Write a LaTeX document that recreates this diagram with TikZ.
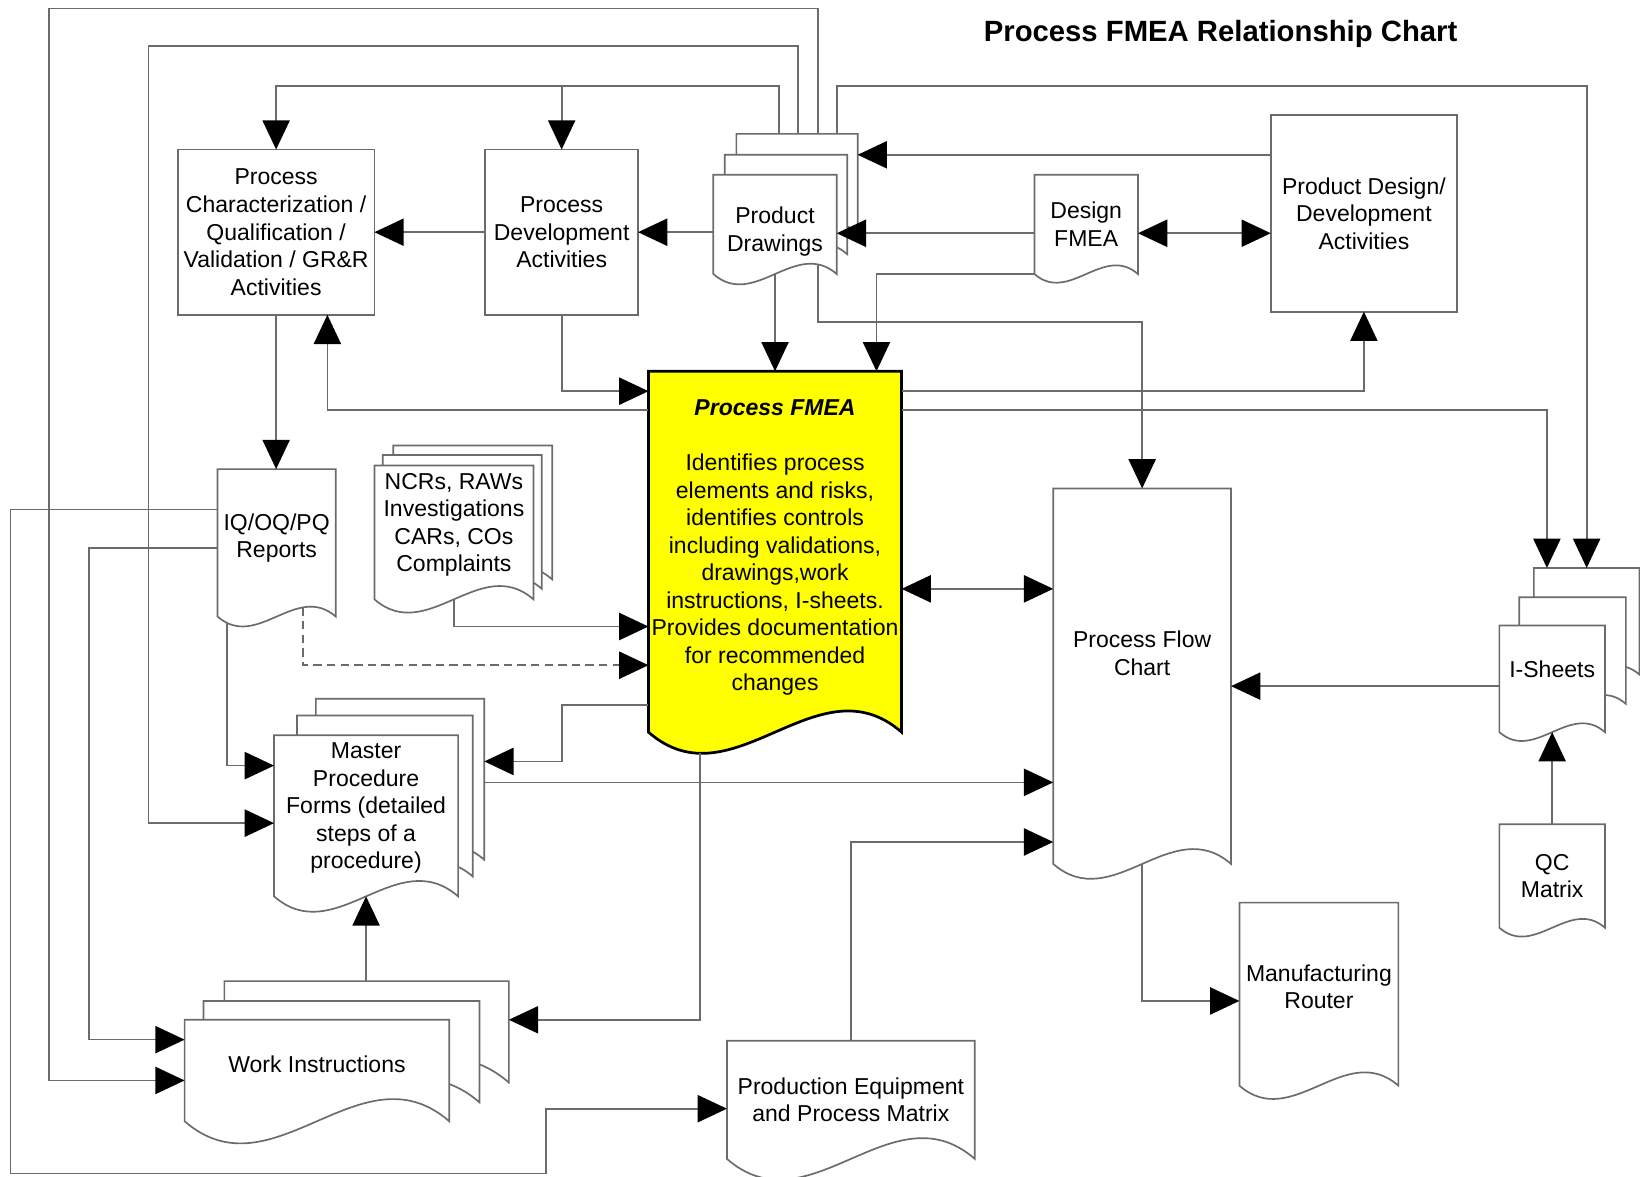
\documentclass[tikz,border=0pt]{standalone}
\usepackage{fontspec}
\setmainfont{Liberation Sans}
\usepackage{tikz}
\usetikzlibrary{arrows.meta,calc}
\pgfdeclarelayer{shapes}
\pgfsetlayers{shapes,main}
\definecolor{linegray}{gray}{0.42}
\definecolor{fmeayellow}{RGB}{255,255,0}
\tikzstyle{box} = [rectangle, draw=linegray, line width=0.8pt, fill=white, text centered, align=center, inner sep=1pt, outer sep=0pt, font=\fontsize{11}{13.15}\selectfont]
\tikzstyle{doc} = [rectangle, text centered, align=center, inner sep=1pt, outer sep=0pt, font=\fontsize{11}{13.15}\selectfont]
\tikzstyle{docsheet} = [fill=white, draw=linegray, line width=0.8pt]
\tikzstyle{fmeasheet} = [fill=fmeayellow, draw=black, line width=1.3pt]
\tikzstyle{arrow} = [draw=linegray, line width=0.8pt, -{Triangle[length=14pt,width=13pt,color=black]}]
\tikzstyle{twoway} = [arrow, {Triangle[length=14pt,width=13pt,color=black]}-{Triangle[length=14pt,width=13pt,color=black]}]
% document outline round a node: #3,#4 shift left/right edge, #5 lifts the sheet
\newcommand{\docshape}[5][docsheet]{%
  \begin{pgfonlayer}{shapes}
  \path[#1] let \p1=(#2.north west), \p2=(#2.south east),
    \n1={\x1+#3}, \n2={\x2+#4}, \n3={\y1+#5}, \n4={\y2+#5}, \n5={\n2-\n1} in
    (\n1,\n3) -- (\n2,\n3) -- (\n2,\n4)
    .. controls ({\n2-\n5/3},{\n4+0.29*\n5}) and ({\n1+\n5/3},{\n4-0.29*\n5}) .. (\n1,\n4) -- cycle;
  \end{pgfonlayer}}

\begin{document}
\begin{tikzpicture}[x=0.5pt, y=-0.5pt]
\useasboundingbox (0,0) rectangle (1568,1125);

\node(title) at (1167,32) [font=\fontsize{14}{17}\selectfont\bfseries] {Process FMEA Relationship Chart};

\node(pc) at (264,222) [box, minimum width=94pt, minimum height=79pt] {Process\\Characterization /\\Qualification /\\Validation / GR\&R\\Activities};
\node(pd) at (537,222) [box, minimum width=73pt, minimum height=79pt] {Process\\Development\\Activities};
\node(pdraw) at (741,214.5) [doc, minimum width=59pt, minimum height=47.5pt, text height=28pt] {Product\\Drawings};
\node(dfmea) at (1038.5,214.5) [doc, minimum width=49.5pt, minimum height=47.5pt] {Design\\FMEA};
\node(pdd) at (1304,204) [box, minimum width=89pt, minimum height=94pt] {Product Design/\\Development\\Activities};
\node(pfmea) at (741,527.5) [doc, minimum width=121pt, minimum height=172.5pt, text depth=6pt] {\textbf{\textit{Process FMEA}}\\[13pt]Identifies process\\elements and risks,\\identifies controls\\including validations,\\drawings,work\\instructions, I-sheets.\\Provides documentation\\for recommended\\changes};
\node(pfc) at (1092,646.5) [doc, minimum width=85pt, minimum height=179.5pt, text depth=22pt] {Process Flow\\Chart};
\node(isheets) at (1484,649) [doc, minimum width=50.5pt, minimum height=51pt, text depth=9pt] {I-Sheets};
\node(qc) at (1484,837.5) [doc, minimum width=50.5pt, minimum height=49.5pt] {QC\\Matrix};
\node(mr) at (1261,950.5) [doc, minimum width=76pt, minimum height=87.5pt, text depth=7pt] {Manufacturing\\Router};
\node(pem) at (813.5,1051.5) [doc, minimum width=118.5pt, minimum height=56.5pt] {Production Equipment\\and Process Matrix};
\node(wi) at (303,1023.5) [doc, minimum width=126.5pt, minimum height=48.5pt, text depth=6pt] {Work Instructions};
\node(mpf) at (350,780) [doc, minimum width=88pt, minimum height=77pt, text depth=9.5pt] {Master\\Procedure\\Forms (detailed\\steps of a\\procedure)};
\node(ncr) at (434,509) [doc, minimum width=76pt, minimum height=64pt, text depth=9.3pt] {NCRs, RAWs\\Investigations\\CARs, COs\\Complaints};
\node(iq) at (264.5,519) [doc, minimum width=56.5pt, minimum height=70.5pt, text depth=6.8pt] {IQ/OQ/PQ\\Reports};

\docshape{pdraw}{11pt}{10pt}{19.5pt}
\docshape{pdraw}{5.5pt}{5pt}{9.5pt}
\docshape{pdraw}{0pt}{0pt}{0pt}
\docshape{dfmea}{0pt}{0pt}{0pt}
\docshape[fmeasheet]{pfmea}{0pt}{0pt}{0pt}
\docshape{pfc}{0pt}{0pt}{0pt}
\docshape{isheets}{16.5pt}{16.5pt}{27.5pt}
\docshape{isheets}{9.5pt}{10pt}{13.5pt}
\docshape{isheets}{0pt}{0pt}{0pt}
\docshape{qc}{0pt}{0pt}{0pt}
\docshape{mr}{0pt}{0pt}{0pt}
\docshape{pem}{0pt}{0pt}{0pt}
\docshape{wi}{19pt}{28.5pt}{18.5pt}
\docshape{wi}{9pt}{14.5pt}{9pt}
\docshape{wi}{0pt}{0pt}{0pt}
\docshape{mpf}{20pt}{12.5pt}{17.5pt}
\docshape{mpf}{11pt}{7pt}{9.5pt}
\docshape{mpf}{0pt}{0pt}{0pt}
\docshape{ncr}{9pt}{9pt}{9.5pt}
\docshape{ncr}{4pt}{4pt}{5pt}
\docshape{ncr}{0pt}{0pt}{0pt}
\docshape{iq}{0pt}{0pt}{0pt}

\draw [arrow] ([xshift=50pt,yshift=19.5pt]pdraw.north west) -- ++(0,-120) -- ++(-735,0) |- ([yshift=-4.75pt]wi.west);
\draw [arrow] ([xshift=40.5pt,yshift=19.5pt]pdraw.north west) -- ++(0,-84) -- ++(-621,0) |- ([yshift=-3.5pt]mpf.west);
\draw [arrow] ([xshift=31.5pt,yshift=19.5pt]pdraw.north west) -- ++(0,-46) coordinate (bus) -| (pc.north);
\draw [arrow] (bus -| pd.north) -- (pd.north);
\draw [arrow] ([xshift=59pt,yshift=19.5pt]pdraw.north west) -- ++(0,-46) -| ([xshift=41.75pt,yshift=27.5pt]isheets.north west);

\draw [arrow] ([yshift=28pt]pdd.west) -- ++(-395,0);
\draw [arrow] ([yshift=-4.25pt]dfmea.west) -- ([yshift=-4.25pt]pdraw.east);
\draw [arrow] (pdraw.west |- pd.east) -- (pd.east);
\draw [arrow] (pd.west) -- (pc.east);
\draw [twoway] ([yshift=-4.25pt]dfmea.east) -- ++(127,0);

\draw [arrow] (pdraw.south) -- (pfmea.north);
\draw [arrow] (dfmea.south west) -| ([xshift=48.5pt]pfmea.north);
\draw [arrow] ([xshift=20.5pt,yshift=4.6pt]pdraw.south) -- ++(0,55) -| (pfc.north);
\draw [arrow] (pd.south) |- ([yshift=76.75pt]pfmea.west);
\draw [arrow] ([yshift=67.75pt]pfmea.west) -| ([xshift=24.5pt]pc.south);
\draw [arrow] ([yshift=76.75pt]pfmea.east) -| (pdd.south);
\draw [arrow] ([yshift=67.75pt]pfmea.east) -| ([xshift=22.75pt,yshift=27.5pt]isheets.north west);
\draw [arrow] (pc.south) -- (pc.south |- iq.north);

\draw [twoway] ([yshift=-17.75pt]pfmea.east) -- ++(145,0);
\draw [arrow] ([yshift=-3.5pt]isheets.west) -- ++(-256.5,0);
\draw [arrow] (qc.north) -- (isheets.south);

\draw [arrow] (ncr.south) |- ([yshift=-35.75pt]pfmea.west);
\draw [arrow, dash pattern=on 4pt off 2.5pt] ([xshift=12.75pt,yshift=4.4pt]iq.south) |- ([yshift=-54.25pt]pfmea.west);
\draw [arrow] ([xshift=-23.75pt,yshift=-3pt]iq.south) |- ([yshift=24pt]mpf.west);
\draw [arrow] ([yshift=-73.25pt]pfmea.west) -- ++(-83,0) |- ([xshift=12.5pt,yshift=26pt]mpf.east);
\draw [arrow] ([xshift=12.5pt,yshift=16pt]mpf.east) -- ([yshift=-50.75pt]pfc.west);
\draw [arrow] ([xshift=-36pt,yshift=-10.1pt]pfmea.south) |- ([xshift=28.5pt,yshift=24.25pt]wi.east);
\draw [arrow] (pem.north) |- ([yshift=-79.25pt]pfc.west);
\draw [arrow] (pfc.south) |- ([yshift=-3.25pt]mr.west);
\draw [arrow] ([xshift=23.5pt,yshift=18.5pt]wi.north) -- (mpf.south);

\draw [arrow] ([yshift=16pt]iq.west) -- ++(-198,0) -- ++(0,635) -- ++(512,0) |- ([yshift=-4.25pt]pem.west);
\draw [arrow] ([yshift=-2.5pt]iq.west) -- ++(-123,0) |- ([yshift=14.75pt]wi.west);

\end{tikzpicture}
\end{document}
